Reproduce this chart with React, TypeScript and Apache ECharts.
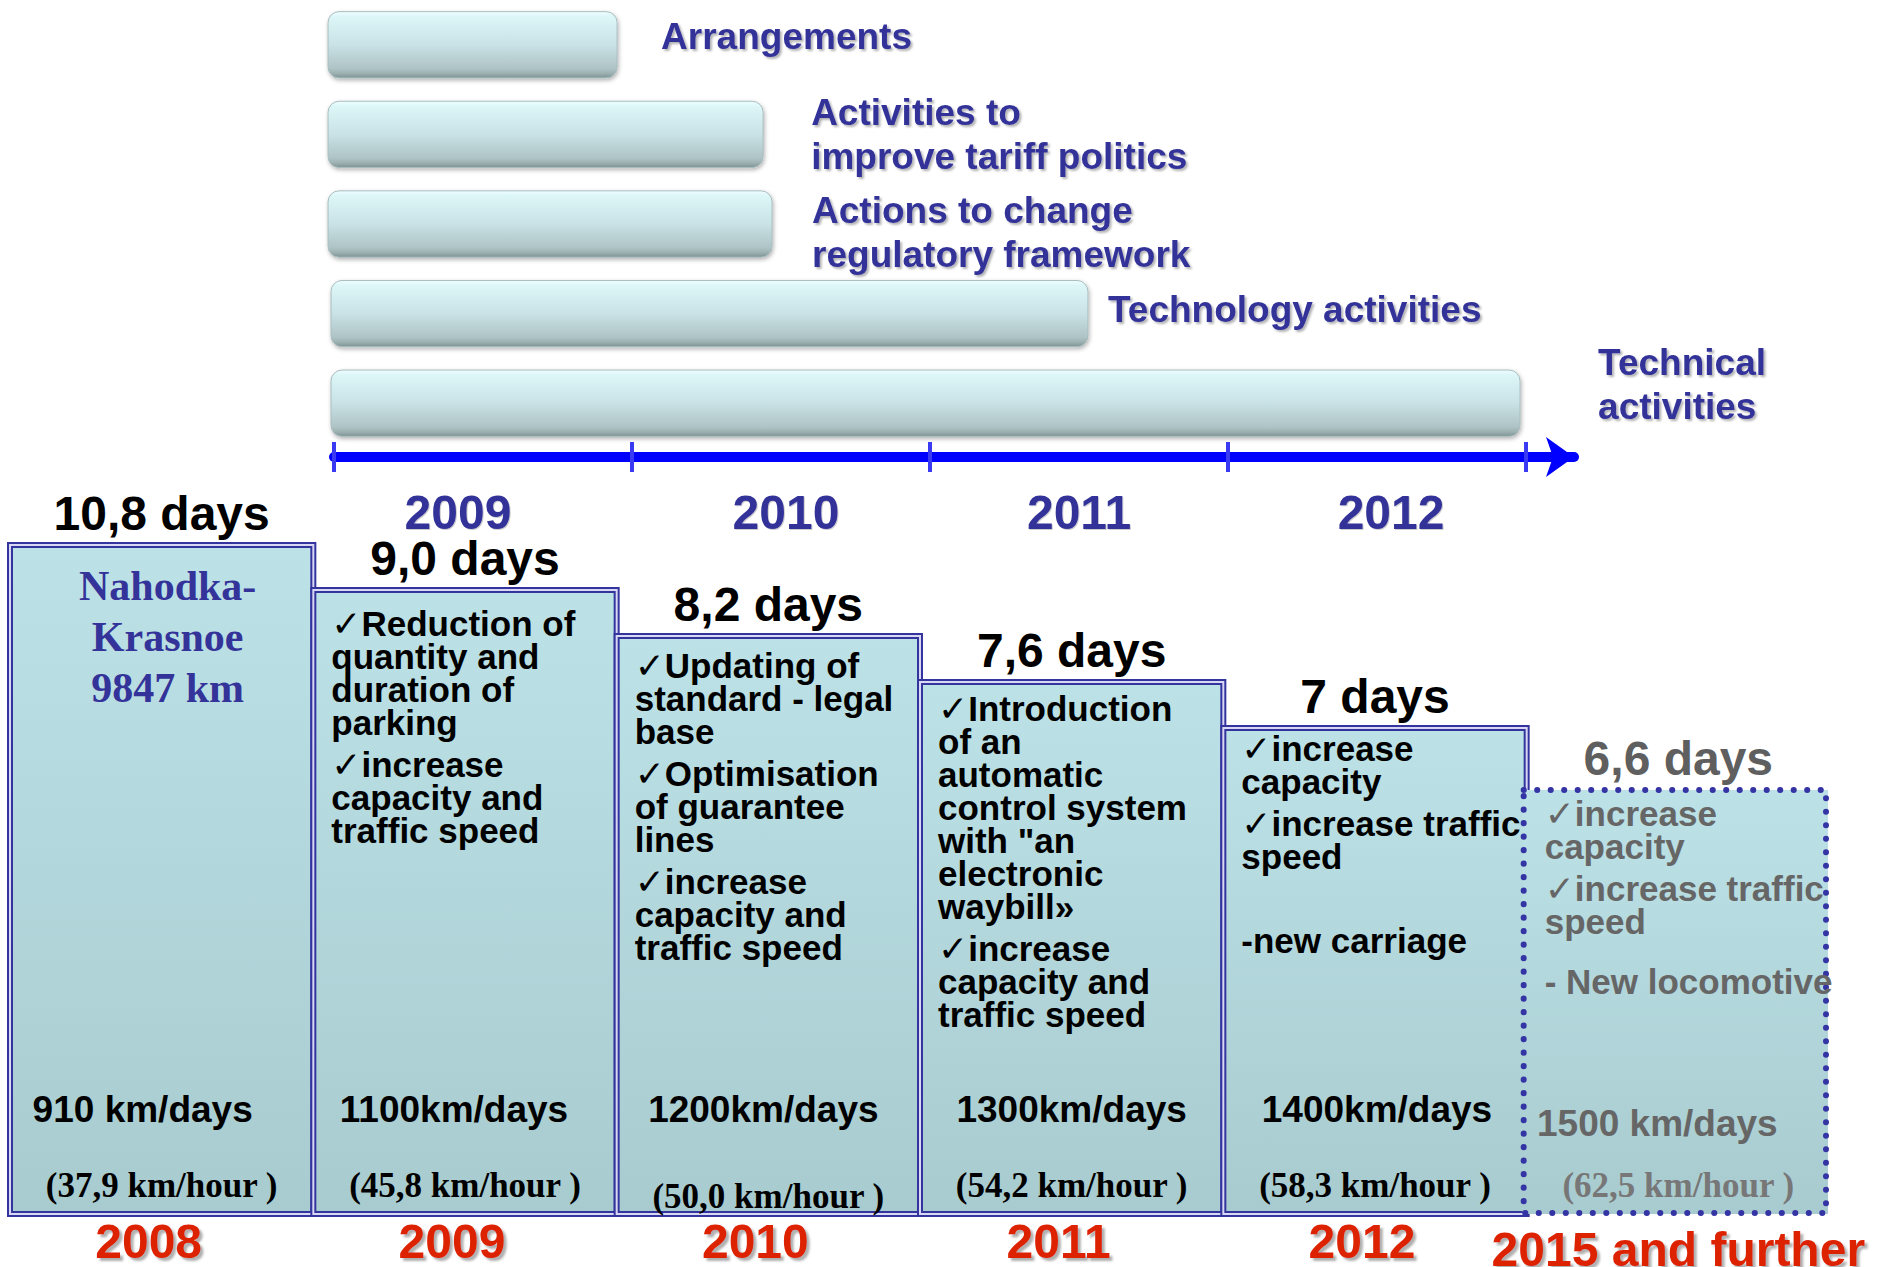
import { useEffect, useRef } from "react";
import * as echarts from "echarts";

// ---------- data ----------
const activities = [
  "Arrangements",
  "Activities to\nimprove tariff politics",
  "Actions to change\nregulatory framework",
  "Technology activities",
  "Technical\nactivities",
];
const activityStart = [2008.98, 2008.98, 2008.98, 2008.99, 2008.99];
const activityEnd = [2009.95, 2010.44, 2010.47, 2011.53, 2012.98];
const timelineTicks = [2009, 2010, 2011, 2012, 2013];
const timelineYears = [2009, 2010, 2011, 2012];

const periods = ["2008", "2009", "2010", "2011", "2012", "2015 and further"];
const transitDays = ["10,8", "9,0", "8,2", "7,6", "7", "6,6"];
const boxLevels = [669, 624, 578, 532, 486, 424];
const routeName = ["Nahodka-", "Krasnoe", "9847 km"];
const dailyDistance = ["910 km/days", "1100km/days", "1200km/days", "1300km/days", "1400km/days", "1500 km/days"];
const hourlySpeed = ["(37,9 km/hour )", "(45,8 km/hour )", "(50,0 km/hour )", "(54,2 km/hour )", "(58,3 km/hour )", "(62,5 km/hour )"];
const measures: string[][] = [
  [],
  ["✓Reduction of", "quantity and", "duration of", "parking", "", "✓increase", "capacity and", "traffic speed"],
  ["✓Updating of", "standard - legal", "base", "", "✓Optimisation", "of guarantee", "lines", "", "✓increase", "capacity and", "traffic speed"],
  ["✓Introduction", "of an", "automatic", "control system", 'with "an', "electronic", "waybill»", "", "✓increase", "capacity and", "traffic speed"],
  ["✓increase", "capacity", "", "✓increase traffic", "speed", " ", "", "", "-new carriage"],
  ["✓increase", "capacity", "", "✓increase traffic", "speed", "", "", "", "- New locomotive"],
];

// ---------- styles ----------
const SANS = "Liberation Sans, Arial, sans-serif";
const SERIF = "Liberation Serif, Times New Roman, serif";
const INDIGO = "#333399";
const labelGap = [44, 48, 40, 20, 78];
const labelDy = [-8, 0, 8, -4, -19];
const yearLabelShift = [-25, 5, 0, 14];
const notesTop = [15, 16.5, 12.5, 9.5, 3.5, 6.5];
const distanceShift = [-19, -11, -5, 0, 2, -21];

function richNotes(lines: string[]) {
  return lines
    .map((l) => {
      if (l === "") return "{g| }";
      if (l === " ") return "{t| }";
      if (l.startsWith("✓")) return "{c|✓}{t|" + l.slice(1) + "}";
      return "{t|" + l + "}";
    })
    .join("\n");
}

const barGradient = {
  type: "linear",
  x: 0,
  y: 0,
  x2: 0,
  y2: 1,
  colorStops: [
    { offset: 0, color: "#f0feff" },
    { offset: 0.07, color: "#ddf7f9" },
    { offset: 0.5, color: "#c9e2e5" },
    { offset: 0.86, color: "#aec3c5" },
    { offset: 0.93, color: "#9db1b2" },
    { offset: 1, color: "#7e9394" },
  ],
};
const boxGradient = {
  type: "linear",
  x: 0,
  y: 0,
  x2: 0,
  y2: 1,
  colorStops: [
    { offset: 0, color: "#bce2e7" },
    { offset: 1, color: "#a8cbcf" },
  ],
};

export default function App() {
  const ref = useRef<HTMLDivElement>(null);

  useEffect(() => {
    document.body.style.margin = "0";
    const chart = echarts.init(ref.current!, null, { renderer: "svg" });

    const option: any = {
      animation: false,
      backgroundColor: "#ffffff",
      grid: [
        { left: 334, right: 1885 - 1574, top: 0, height: 448, outerBoundsMode: "none" },
        { left: 10, right: 55, top: 514, bottom: 53, outerBoundsMode: "none" },
      ],
      xAxis: [
        {
          type: "value",
          gridIndex: 0,
          min: 2009,
          max: 2013.161,
          offset: 9,
          position: "bottom",
          axisLine: {
            show: true,
            symbol: ["none", "arrow"],
            symbolSize: [30, 28],
            lineStyle: { color: "#0000ff", width: 10 },
          },
          axisTick: { show: false },
          axisLabel: { show: false },
          splitLine: { show: false },
        },
        {
          type: "category",
          gridIndex: 1,
          data: periods.map((p, i) => ({
            value: p,
            textStyle: i === periods.length - 1 ? { lineHeight: 62 } : { padding: [0, 26, 0, 0] },
          })),
          axisLine: { show: false },
          axisTick: { show: false },
          axisLabel: {
            interval: 0,
            margin: 4,
            fontFamily: SANS,
            fontWeight: "bold",
            fontSize: 48,
            lineHeight: 46,
            color: "#dd2200",
            textShadowColor: "rgba(80,80,80,0.45)",
            textShadowOffsetX: 3,
            textShadowOffsetY: 3,
            textShadowBlur: 2,
          },
        },
      ],
      yAxis: [
        { type: "category", gridIndex: 0, inverse: true, data: activities, show: false },
        { type: "value", gridIndex: 1, min: 0, max: 700, show: false },
      ],
      series: [
        {
          type: "custom",
          name: "activities",
          xAxisIndex: 0,
          yAxisIndex: 0,
          encode: { y: 0, x: [1, 2] },
          data: activities.map((_, i) => [i, activityStart[i], activityEnd[i]]),
          renderItem: (params: any, api: any) => {
            const i = params.dataIndex;
            const c = api.value(0);
            const s = api.coord([api.value(1), c]);
            const e = api.coord([api.value(2), c]);
            const h = api.size([0, 1])[1] * 0.74;
            return {
              type: "group",
              children: [
                {
                  type: "rect",
                  shape: { x: s[0], y: s[1] - h / 2, width: e[0] - s[0], height: h, r: 11 },
                  style: {
                    fill: barGradient,
                    stroke: "#a9bdbf",
                    lineWidth: 1,
                    shadowBlur: 4,
                    shadowOffsetX: 1,
                    shadowOffsetY: 2,
                    shadowColor: "rgba(0,0,0,0.3)",
                  },
                },
                {
                  type: "text",
                  x: e[0] + labelGap[i],
                  y: s[1] + labelDy[i],
                  style: {
                    text: activities[i],
                    fontFamily: SANS,
                    fontWeight: "bold",
                    fontSize: 37,
                    lineHeight: 44,
                    fill: INDIGO,
                    align: "left",
                    verticalAlign: "middle",
                    textShadowColor: "rgba(0,0,0,0.3)",
                    textShadowOffsetX: 2,
                    textShadowOffsetY: 2,
                    textShadowBlur: 2,
                  },
                },
              ],
            };
          },
        },
        {
          type: "custom",
          name: "ticks",
          xAxisIndex: 0,
          yAxisIndex: 0,
          encode: { x: 0, y: 1 },
          data: timelineTicks.map((t) => [t, 0]),
          renderItem: (params: any, api: any) => {
            const x = api.coord([api.value(0), 0])[0];
            const y = params.coordSys.y + params.coordSys.height + 9;
            return {
              type: "rect",
              shape: { x: x - 2, y: y - 15, width: 4, height: 30 },
              style: { fill: "#3a3af2" },
            };
          },
        },
        {
          type: "custom",
          name: "years",
          xAxisIndex: 0,
          yAxisIndex: 0,
          encode: { x: 0, y: 1 },
          data: timelineYears.map((t) => [t + 0.5, 0]),
          renderItem: (params: any, api: any) => {
            const i = params.dataIndex;
            const x = api.coord([api.value(0), 0])[0] + yearLabelShift[i];
            const y = params.coordSys.y + params.coordSys.height + 9 + 55;
            return {
              type: "text",
              x,
              y,
              style: {
                text: String(timelineYears[i]),
                fontFamily: SANS,
                fontWeight: "bold",
                fontSize: 48,
                fill: INDIGO,
                align: "center",
                verticalAlign: "middle",
                textShadowColor: "rgba(0,0,0,0.2)",
                textShadowOffsetX: 1,
                textShadowOffsetY: 1,
                textShadowBlur: 1,
              },
            };
          },
        },
        {
          type: "custom",
          name: "transit",
          xAxisIndex: 1,
          yAxisIndex: 1,
          encode: { x: 0, y: 1 },
          data: boxLevels.map((v, i) => [i, v]),
          renderItem: (params: any, api: any) => {
            const i = params.dataIndex;
            const p = api.coord([api.value(0), api.value(1)]);
            const b = api.coord([api.value(0), 0]);
            const w = api.size([1, 0])[0];
            const x0 = p[0] - w / 2;
            const y0 = p[1];
            const h = b[1] - p[1];
            const cx = p[0];
            const future = i === periods.length - 1;
            const ink = future ? "#666666" : "#000000";
            const children: any[] = [];
            children.push({
              type: "rect",
              shape: future ? { x: x0 - 4, y: y0, width: w + 2, height: h } : { x: x0, y: y0, width: w, height: h },
              style: { fill: boxGradient },
            });
            if (!future) {
              children.push({
                type: "rect",
                shape: { x: x0, y: y0, width: w, height: h },
                style: { fill: "none", stroke: "#34349e", lineWidth: 6 },
              });
              children.push({
                type: "rect",
                shape: { x: x0, y: y0, width: w, height: h },
                style: { fill: "none", stroke: "#d8d8f4", lineWidth: 2 },
              });
            } else {
              children.push({
                type: "rect",
                shape: { x: x0 - 3, y: y0, width: w - 1, height: h - 1 },
                style: {
                  fill: "none",
                  stroke: "#3434a4",
                  lineWidth: 6,
                  lineDash: [0.1, 13.4],
                  lineCap: "round",
                },
              });
            }
            // days label
            children.push({
              type: "text",
              x: cx,
              y: y0 - 32,
              style: {
                text: transitDays[i] + " days",
                fontFamily: SANS,
                fontWeight: "bold",
                fontSize: 48,
                fill: future ? "#5f5f5f" : "#000000",
                align: "center",
                verticalAlign: "middle",
              },
            });
            if (i === 0) {
              children.push({
                type: "text",
                x: cx + 6,
                y: y0 + notesTop[i],
                style: {
                  text: routeName.join("\n"),
                  fontFamily: SERIF,
                  fontWeight: "bold",
                  fontSize: 42,
                  lineHeight: 51,
                  fill: INDIGO,
                  align: "center",
                  verticalAlign: "top",
                },
              });
            } else {
              children.push({
                type: "text",
                x: x0 + 18,
                y: y0 + notesTop[i],
                style: {
                  text: richNotes(measures[i]),
                  align: "left",
                  verticalAlign: "top",
                  fill: ink,
                  rich: {
                    c: { fontFamily: "DejaVu Sans", fontSize: 36, lineHeight: 33, fill: ink, fontWeight: "normal" },
                    t: { fontFamily: SANS, fontSize: 35, fontWeight: "bold", lineHeight: 33, fill: ink },
                    g: { fontFamily: SANS, fontSize: 8, lineHeight: 9, fill: ink },
                  },
                },
              });
            }
            children.push({
              type: "text",
              x: cx + distanceShift[i],
              y: b[1] - (future ? 91 : 105),
              style: {
                text: dailyDistance[i],
                fontFamily: SANS,
                fontWeight: "bold",
                fontSize: 37,
                fill: future ? "#666666" : "#000000",
                align: "center",
                verticalAlign: "middle",
              },
            });
            children.push({
              type: "text",
              x: cx,
              y: b[1] - (i === 2 ? 18 : 29),
              style: {
                text: hourlySpeed[i],
                fontFamily: SERIF,
                fontWeight: "bold",
                fontSize: 35,
                fill: future ? "#777777" : "#000000",
                align: "center",
                verticalAlign: "middle",
              },
            });
            return { type: "group", children };
          },
        },
      ],
    };

    chart.setOption(option);
    return () => chart.dispose();
  }, []);

  return <div ref={ref} style={{ width: 1885, height: 1267 }} />;
}
